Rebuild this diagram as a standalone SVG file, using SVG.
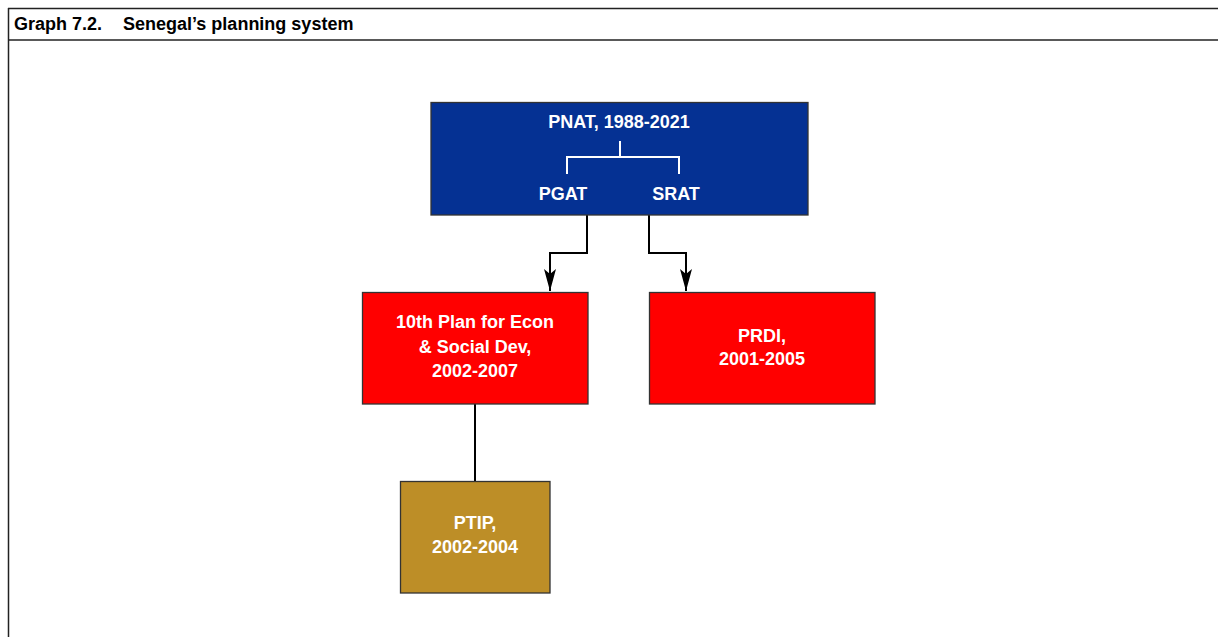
<svg xmlns="http://www.w3.org/2000/svg" width="1218" height="637" viewBox="0 0 1218 637">
<defs>
<style>
.frame{stroke:#222;stroke-width:1.5;fill:none}
.box{stroke:#333;stroke-width:1.3}
.lbl{font-family:"Liberation Sans",Arial,sans-serif;font-weight:bold;font-size:18px;fill:#fff;text-anchor:middle}
.title{font-family:"Liberation Sans",Arial,sans-serif;font-weight:bold;font-size:18px;fill:#000}
.conn{stroke:#000;stroke-width:2;fill:none}
.br{stroke:#fff;stroke-width:2;fill:none}
</style>
<marker id="arr" viewBox="0 0 22 12" refX="22" refY="6" markerWidth="22" markerHeight="12" markerUnits="userSpaceOnUse" orient="auto">
<path d="M0,0 L5,6 L0,12 L22,6 Z" fill="#000"/>
</marker>
</defs>
<rect width="1218" height="637" fill="#fff"/>
<g id="frame">
<line class="frame" x1="8" y1="8.5" x2="1218" y2="8.5"/>
<line class="frame" x1="8" y1="40" x2="1218" y2="40"/>
<line class="frame" x1="8.5" y1="8" x2="8.5" y2="637"/>
<text class="title" y="30"><tspan x="14">Graph 7.2.</tspan><tspan x="123">Senegal’s planning system</tspan></text>
</g>
<g id="connectors">
<path class="conn" d="M587,215 V253 H550 V291" marker-end="url(#arr)"/>
<path class="conn" d="M649,215 V253 H686 V291" marker-end="url(#arr)"/>
<path class="conn" d="M475,404 V481"/>
</g>
<g id="pnat">
<rect class="box" x="431" y="102.5" width="377" height="112.5" fill="#053193"/>
<text class="lbl" x="619" y="128">PNAT, 1988-2021</text>
<path class="br" d="M620,141 V157 M567,174 V157 H679 V174"/>
<text class="lbl" x="563" y="200">PGAT</text>
<text class="lbl" x="676" y="200">SRAT</text>
</g>
<g id="tenth">
<rect class="box" x="362.5" y="292.5" width="225.5" height="111.5" fill="#ff0000"/>
<text class="lbl" x="475" y="328">10th Plan for Econ</text>
<text class="lbl" x="475" y="353">&amp; Social Dev,</text>
<text class="lbl" x="475" y="377">2002-2007</text>
</g>
<g id="prdi">
<rect class="box" x="649.5" y="292.5" width="225.5" height="111.5" fill="#ff0000"/>
<text class="lbl" x="762" y="342">PRDI,</text>
<text class="lbl" x="762" y="365">2001-2005</text>
</g>
<g id="ptip">
<rect class="box" x="400.5" y="481.5" width="149.5" height="111.5" fill="#bd8e27"/>
<text class="lbl" x="475" y="529">PTIP,</text>
<text class="lbl" x="475" y="553">2002-2004</text>
</g>
</svg>
